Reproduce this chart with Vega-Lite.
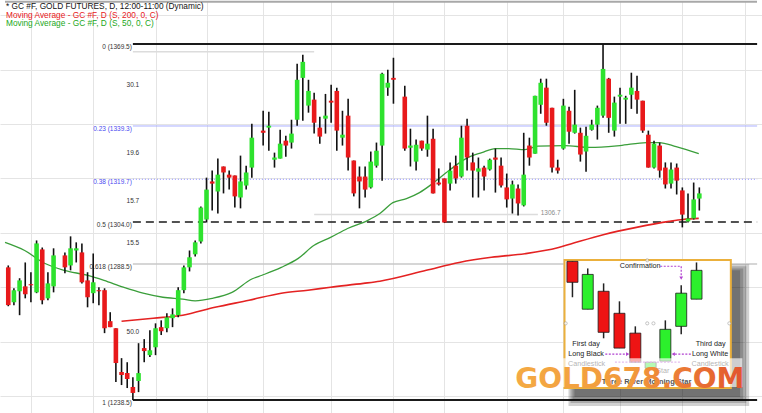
{
"$schema":"https://vega.github.io/schema/vega-lite/v6.json",
"width":762,"height":413,"padding":0,
"autosize":{"type":"fit","contains":"padding"},
"background":"white",
"config":{"view":{"stroke":null},"axis":{"labels":false,"ticks":false,"domain":false,"grid":true,"gridColor":"#e4e4e4","gridWidth":1,"minExtent":0,"maxExtent":0,"titlePadding":0},"text":{"font":"Liberation Sans"}},
"datasets":{
"candles":[
{"t":0,"o":1287.3,"h":1288.0,"l":1273.0,"c":1273.4},
{"t":1,"o":1274.5,"h":1279.6,"l":1273.4,"c":1278.9},
{"t":2,"o":1278.5,"h":1283.3,"l":1269.7,"c":1282.5},
{"t":3,"o":1280.3,"h":1289.1,"l":1275.9,"c":1277.4},
{"t":4,"o":1281.1,"h":1285.5,"l":1274.5,"c":1280.7},
{"t":5,"o":1278.1,"h":1297.2,"l":1277.8,"c":1296.1},
{"t":6,"o":1293.9,"h":1294.6,"l":1273.7,"c":1275.2},
{"t":7,"o":1275.9,"h":1285.5,"l":1275.2,"c":1281.4},
{"t":8,"o":1280.3,"h":1294.3,"l":1278.1,"c":1291.7},
{"t":10,"o":1291.7,"h":1292.8,"l":1285.1,"c":1287.3},
{"t":11,"o":1288.0,"h":1298.7,"l":1286.2,"c":1294.3},
{"t":12,"o":1293.5,"h":1296.5,"l":1289.1,"c":1294.3},
{"t":13,"o":1292.8,"h":1296.1,"l":1281.4,"c":1281.8},
{"t":14,"o":1282.5,"h":1285.5,"l":1272.6,"c":1276.3},
{"t":15,"o":1277.8,"h":1292.4,"l":1274.1,"c":1281.8},
{"t":16,"o":1278.9,"h":1280.0,"l":1273.4,"c":1278.5},
{"t":17,"o":1278.9,"h":1279.6,"l":1263.1,"c":1264.9},
{"t":18,"o":1267.5,"h":1270.8,"l":1265.3,"c":1265.3},
{"t":19,"o":1264.9,"h":1264.9,"l":1245.1,"c":1252.1},
{"t":20,"o":1248.8,"h":1253.9,"l":1244.0,"c":1247.7},
{"t":21,"o":1248.4,"h":1252.4,"l":1242.9,"c":1246.2},
{"t":22,"o":1243.3,"h":1246.9,"l":1238.5,"c":1241.1},
{"t":23,"o":1245.5,"h":1259.4,"l":1241.4,"c":1248.4},
{"t":24,"o":1257.6,"h":1260.9,"l":1252.4,"c":1256.5},
{"t":25,"o":1255.0,"h":1264.2,"l":1254.3,"c":1256.8},
{"t":26,"o":1257.9,"h":1266.7,"l":1255.0,"c":1264.9},
{"t":27,"o":1265.3,"h":1267.8,"l":1262.4,"c":1263.8},
{"t":28,"o":1264.9,"h":1270.4,"l":1263.4,"c":1268.9},
{"t":29,"o":1268.6,"h":1272.2,"l":1265.3,"c":1270.0},
{"t":30,"o":1269.7,"h":1280.0,"l":1268.9,"c":1278.9},
{"t":31,"o":1278.9,"h":1288.0,"l":1277.8,"c":1287.3},
{"t":32,"o":1287.3,"h":1293.5,"l":1285.8,"c":1291.0},
{"t":33,"o":1292.1,"h":1297.2,"l":1291.3,"c":1296.5},
{"t":34,"o":1296.8,"h":1309.7,"l":1296.1,"c":1309.3},
{"t":35,"o":1304.9,"h":1320.3,"l":1303.8,"c":1315.9},
{"t":36,"o":1318.9,"h":1322.9,"l":1308.2,"c":1318.1},
{"t":37,"o":1315.2,"h":1327.3,"l":1307.1,"c":1321.4},
{"t":38,"o":1324.4,"h":1324.4,"l":1314.5,"c":1322.2},
{"t":39,"o":1321.4,"h":1322.9,"l":1315.9,"c":1320.3},
{"t":40,"o":1321.1,"h":1321.1,"l":1309.3,"c":1313.4},
{"t":41,"o":1313.0,"h":1328.4,"l":1309.0,"c":1318.9},
{"t":42,"o":1317.4,"h":1324.7,"l":1315.9,"c":1322.2},
{"t":43,"o":1324.0,"h":1340.1,"l":1320.3,"c":1335.0},
{"t":45,"o":1337.6,"h":1344.9,"l":1332.1,"c":1336.8},
{"t":46,"o":1338.7,"h":1344.5,"l":1330.2,"c":1339.4},
{"t":47,"o":1326.9,"h":1329.5,"l":1324.0,"c":1327.7},
{"t":48,"o":1327.3,"h":1337.9,"l":1327.3,"c":1332.8},
{"t":49,"o":1333.9,"h":1335.7,"l":1328.0,"c":1332.1},
{"t":50,"o":1333.2,"h":1341.6,"l":1331.0,"c":1336.5},
{"t":51,"o":1341.6,"h":1362.2,"l":1339.4,"c":1356.3},
{"t":52,"o":1357.0,"h":1365.5,"l":1341.2,"c":1362.9},
{"t":53,"o":1346.8,"h":1356.3,"l":1344.2,"c":1352.2},
{"t":54,"o":1349.0,"h":1351.5,"l":1336.5,"c":1340.5},
{"t":55,"o":1338.7,"h":1342.7,"l":1332.8,"c":1335.4},
{"t":56,"o":1342.0,"h":1351.1,"l":1336.5,"c":1343.1},
{"t":57,"o":1348.6,"h":1354.5,"l":1340.5,"c":1347.9},
{"t":58,"o":1352.2,"h":1353.4,"l":1330.2,"c":1337.6},
{"t":59,"o":1335.0,"h":1344.9,"l":1332.1,"c":1336.1},
{"t":60,"o":1343.1,"h":1349.3,"l":1322.9,"c":1327.7},
{"t":61,"o":1326.6,"h":1326.6,"l":1313.4,"c":1314.5},
{"t":62,"o":1320.7,"h":1324.4,"l":1309.0,"c":1318.9},
{"t":63,"o":1320.7,"h":1324.4,"l":1313.0,"c":1315.9},
{"t":64,"o":1316.7,"h":1329.9,"l":1316.3,"c":1326.2},
{"t":65,"o":1324.7,"h":1333.2,"l":1324.0,"c":1330.2},
{"t":66,"o":1332.1,"h":1358.9,"l":1319.2,"c":1358.5},
{"t":67,"o":1353.4,"h":1360.0,"l":1350.4,"c":1355.2},
{"t":68,"o":1357.0,"h":1364.4,"l":1347.5,"c":1356.3},
{"t":70,"o":1350.1,"h":1354.1,"l":1330.2,"c":1331.0},
{"t":71,"o":1331.3,"h":1338.3,"l":1324.4,"c":1332.1},
{"t":72,"o":1326.2,"h":1334.3,"l":1322.9,"c":1332.4},
{"t":73,"o":1333.9,"h":1333.9,"l":1330.2,"c":1331.0},
{"t":74,"o":1330.6,"h":1343.1,"l":1328.0,"c":1332.8},
{"t":75,"o":1334.6,"h":1338.3,"l":1314.5,"c":1314.5},
{"t":76,"o":1318.5,"h":1323.7,"l":1317.4,"c":1317.8},
{"t":77,"o":1320.0,"h":1320.0,"l":1303.6,"c":1303.8},
{"t":78,"o":1318.1,"h":1325.9,"l":1315.6,"c":1322.9},
{"t":79,"o":1324.7,"h":1328.4,"l":1318.1,"c":1320.0},
{"t":80,"o":1320.7,"h":1339.4,"l":1320.3,"c":1335.0},
{"t":81,"o":1339.4,"h":1342.0,"l":1322.9,"c":1327.7},
{"t":82,"o":1325.9,"h":1329.5,"l":1313.0,"c":1322.9},
{"t":83,"o":1322.5,"h":1327.7,"l":1313.0,"c":1323.7},
{"t":84,"o":1324.0,"h":1324.7,"l":1315.6,"c":1320.7},
{"t":85,"o":1323.3,"h":1327.3,"l":1322.9,"c":1326.9},
{"t":86,"o":1327.7,"h":1331.0,"l":1314.8,"c":1326.9},
{"t":87,"o":1324.7,"h":1327.7,"l":1316.7,"c":1317.4},
{"t":88,"o":1316.7,"h":1321.8,"l":1309.3,"c":1312.3},
{"t":89,"o":1312.6,"h":1319.2,"l":1307.1,"c":1317.8},
{"t":90,"o":1316.3,"h":1317.8,"l":1306.4,"c":1310.8},
{"t":91,"o":1310.1,"h":1336.8,"l":1309.7,"c":1321.4},
{"t":92,"o":1332.1,"h":1335.0,"l":1324.7,"c":1327.7},
{"t":93,"o":1329.1,"h":1350.4,"l":1329.1,"c":1350.4},
{"t":94,"o":1347.1,"h":1356.7,"l":1343.8,"c":1355.2},
{"t":95,"o":1353.4,"h":1356.7,"l":1339.4,"c":1340.5},
{"t":96,"o":1346.0,"h":1346.0,"l":1322.2,"c":1324.0},
{"t":97,"o":1324.0,"h":1326.9,"l":1321.8,"c":1322.9},
{"t":98,"o":1331.0,"h":1349.3,"l":1330.6,"c":1346.8},
{"t":99,"o":1344.9,"h":1346.4,"l":1332.8,"c":1337.2},
{"t":100,"o":1336.8,"h":1352.6,"l":1336.5,"c":1339.8},
{"t":101,"o":1336.8,"h":1338.7,"l":1326.2,"c":1328.8},
{"t":102,"o":1329.9,"h":1339.0,"l":1322.5,"c":1335.7},
{"t":103,"o":1337.9,"h":1341.6,"l":1337.6,"c":1339.8},
{"t":104,"o":1339.8,"h":1346.8,"l":1334.3,"c":1346.0},
{"t":105,"o":1343.1,"h":1369.5,"l":1342.3,"c":1360.3},
{"t":106,"o":1356.7,"h":1357.0,"l":1336.8,"c":1342.3},
{"t":107,"o":1337.6,"h":1350.1,"l":1335.4,"c":1347.9},
{"t":108,"o":1350.1,"h":1353.4,"l":1340.1,"c":1350.8},
{"t":109,"o":1349.0,"h":1350.4,"l":1340.1,"c":1349.7},
{"t":110,"o":1350.8,"h":1358.9,"l":1345.6,"c":1353.4},
{"t":111,"o":1352.2,"h":1357.8,"l":1343.8,"c":1349.0},
{"t":112,"o":1348.6,"h":1348.6,"l":1336.8,"c":1337.6},
{"t":113,"o":1336.1,"h":1337.6,"l":1324.0,"c":1324.0},
{"t":114,"o":1324.0,"h":1333.9,"l":1323.7,"c":1332.8},
{"t":115,"o":1332.1,"h":1333.2,"l":1320.3,"c":1322.9},
{"t":116,"o":1324.0,"h":1325.9,"l":1316.3,"c":1317.8},
{"t":117,"o":1318.1,"h":1325.9,"l":1316.3,"c":1323.3},
{"t":118,"o":1324.0,"h":1325.5,"l":1314.1,"c":1319.2},
{"t":119,"o":1315.6,"h":1316.7,"l":1302.0,"c":1306.7},
{"t":120,"o":1304.2,"h":1314.5,"l":1303.8,"c":1305.3},
{"t":121,"o":1305.3,"h":1318.5,"l":1304.9,"c":1312.3},
{"t":122,"o":1312.6,"h":1316.7,"l":1308.2,"c":1314.5}
],
"ma50":[
{"t":-0.57,"v":1296.5},{"t":2.9,"v":1293.5},{"t":6.4,"v":1288.8},{"t":9.9,"v":1286.2},{"t":13.9,"v":1284.4},{"t":16.9,"v":1282.5},{"t":20.3,"v":1280.0},{"t":23.8,"v":1277.8},{"t":27.3,"v":1276.3},{"t":30.8,"v":1275.6},{"t":33.0,"v":1275.0},{"t":36.0,"v":1275.9},{"t":39.5,"v":1278.1},{"t":43.0,"v":1283.0},{"t":44.8,"v":1284.4},{"t":48.2,"v":1287.3},{"t":51.2,"v":1290.6},{"t":54.0,"v":1295.4},{"t":56.9,"v":1298.3},{"t":59.9,"v":1301.6},{"t":63.4,"v":1304.5},{"t":65.6,"v":1307.1},{"t":67.9,"v":1311.1},{"t":70.3,"v":1312.6},{"t":72.6,"v":1314.8},{"t":74.9,"v":1318.1},{"t":77.8,"v":1322.9},{"t":80.8,"v":1327.3},{"t":83.6,"v":1329.5},{"t":86.0,"v":1331.0},{"t":88.3,"v":1331.0},{"t":91.2,"v":1330.6},{"t":93.5,"v":1331.9},{"t":98.2,"v":1332.1},{"t":102.7,"v":1331.4},{"t":108.0,"v":1332.1},{"t":112.7,"v":1333.2},{"t":114.9,"v":1333.2},{"t":117.9,"v":1331.7},{"t":121.9,"v":1329.1}
],
"ma200":[
{"t":20.0,"v":1267.5},{"t":25.6,"v":1268.6},{"t":30.8,"v":1269.7},{"t":36.5,"v":1272.6},{"t":42.5,"v":1275.2},{"t":48.2,"v":1277.8},{"t":52.9,"v":1278.9},{"t":56.9,"v":1280.0},{"t":62.7,"v":1281.4},{"t":65.6,"v":1282.2},{"t":73.8,"v":1286.2},{"t":79.6,"v":1289.1},{"t":85.3,"v":1291.0},{"t":91.2,"v":1292.3},{"t":97.0,"v":1294.5},{"t":99.3,"v":1295.9},{"t":105.2,"v":1299.4},{"t":110.9,"v":1302.0},{"t":116.7,"v":1304.2},{"t":119.1,"v":1304.9},{"t":121.9,"v":1305.3}
],
"fib":[
{"lvl":0,"p":1369.5,"label":"0 (1369.5)","t0":22,"t1":132.2},
{"lvl":0.236,"p":1339.3,"label":"0.23 (1339.3)","t0":22,"t1":132.2},
{"lvl":0.382,"p":1319.7,"label":"0.38 (1319.7)","t0":22,"t1":132.2},
{"lvl":0.5,"p":1304.0,"label":"0.5 (1304.0)","t0":22,"t1":132.2},
{"lvl":0.618,"p":1288.5,"label":"0.618 (1288.5)","t0":22,"t1":132.2},
{"lvl":1,"p":1238.5,"label":"1 (1238.5)","t0":22,"t1":132.2}
],
"fibdiff":[
{"t":22,"p":1354.4,"d":"30.1"},{"t":22,"p":1329.5,"d":"19.6"},{"t":22,"p":1311.85,"d":"15.7"},{"t":22,"p":1296.25,"d":"15.5"},{"t":22,"p":1263.5,"d":"50.0"}
],
"inset":[
{"t":99.6,"o":1289.5,"h":1289.5,"l":1276.3,"c":1281.8},
{"t":102.3,"o":1271.9,"h":1286.9,"l":1271.9,"c":1284.7},
{"t":105.1,"o":1278.5,"h":1281.4,"l":1261.2,"c":1263.4},
{"t":107.9,"o":1270.4,"h":1274.8,"l":1257.6,"c":1257.6},
{"t":110.7,"o":1263.1,"h":1265.6,"l":1252.4,"c":1252.4},
{"t":113.4,"o":1250.2,"h":1252.4,"l":1250.2,"c":1252.4},
{"t":116.0,"o":1252.8,"h":1267.8,"l":1252.8,"c":1264.5},
{"t":118.8,"o":1265.6,"h":1280.7,"l":1262.7,"c":1277.8},
{"t":121.5,"o":1275.6,"h":1289.1,"l":1275.6,"c":1286.2}
]
},
"layer":[
{"data":{"values":[{"t0":-0.575,"t1":132.18,"p":1385.0}]},
 "mark":{"type":"rule","color":"#a8a8a8","strokeWidth":2},
 "encoding":{
  "x":{"field":"t0","type":"quantitative","scale":{"domain":[-0.575,132.18],"nice":false,"zero":false},"title":null,"axis":{"values":[4,15,26,35,45,57,68,77,88,98,108,119,130]}},
  "x2":{"field":"t1"},
  "y":{"field":"p","type":"quantitative","scale":{"domain":[1233.72,1385.28],"nice":false,"zero":false},"title":null,"axis":{"values":[1240,1250,1260,1270,1280,1290,1300,1310,1320,1330,1340,1350,1360,1370,1380]}}}},
{"data":{"values":[{"t":-0.4,"p":1383.0,"s":"* GC #F, GOLD FUTURES, D, 12:00-11:00 (Dynamic)"}]},
 "mark":{"type":"text","align":"left","baseline":"middle","fontSize":8.3,"color":"#111111"},
 "encoding":{"x":{"field":"t","type":"quantitative","scale":{"domain":[-0.575,132.18],"nice":false,"zero":false},"title":null},"y":{"field":"p","type":"quantitative","scale":{"domain":[1233.72,1385.28],"nice":false,"zero":false},"title":null},"text":{"field":"s"}}},
{"data":{"values":[{"t":-0.4,"p":1379.8,"s":"Moving Average - GC #F, D (S, 200, 0, C)"}]},
 "mark":{"type":"text","align":"left","baseline":"middle","fontSize":8.3,"color":"#e8201c"},
 "encoding":{"x":{"field":"t","type":"quantitative","scale":{"domain":[-0.575,132.18],"nice":false,"zero":false},"title":null},"y":{"field":"p","type":"quantitative","scale":{"domain":[1233.72,1385.28],"nice":false,"zero":false},"title":null},"text":{"field":"s"}}},
{"data":{"values":[{"t":-0.4,"p":1376.7,"s":"Moving Average - GC #F, D (S, 50, 0, C)"}]},
 "mark":{"type":"text","align":"left","baseline":"middle","fontSize":8.3,"color":"#22a822"},
 "encoding":{"x":{"field":"t","type":"quantitative","scale":{"domain":[-0.575,132.18],"nice":false,"zero":false},"title":null},"y":{"field":"p","type":"quantitative","scale":{"domain":[1233.72,1385.28],"nice":false,"zero":false},"title":null},"text":{"field":"s"}}},
{"data":{"values":[{"t0":22,"t1":54,"p":1366.6},{"t0":54,"t1":93.5,"p":1306.7}]},
 "mark":{"type":"rule","color":"#dcdcdc","strokeWidth":1.5},
 "encoding":{"x":{"field":"t0","type":"quantitative","scale":{"domain":[-0.575,132.18],"nice":false,"zero":false},"title":null},"x2":{"field":"t1"},"y":{"field":"p","type":"quantitative","scale":{"domain":[1233.72,1385.28],"nice":false,"zero":false},"title":null}}},
{"data":{"values":[{"t":94,"p":1306.7,"s":"1306.7"}]},
 "mark":{"type":"text","align":"left","baseline":"middle","fontSize":6.5,"color":"#8a8a8a","dy":-2},
 "encoding":{"x":{"field":"t","type":"quantitative","scale":{"domain":[-0.575,132.18],"nice":false,"zero":false},"title":null},"y":{"field":"p","type":"quantitative","scale":{"domain":[1233.72,1385.28],"nice":false,"zero":false},"title":null},"text":{"field":"s"}}},
{"data":{"name":"fib"},"transform":[{"filter":"datum.lvl == 0 || datum.lvl == 1"}],
 "mark":{"type":"rule","color":"#1a1a1a","strokeWidth":2},
 "encoding":{"x":{"field":"t0","type":"quantitative","scale":{"domain":[-0.575,132.18],"nice":false,"zero":false},"title":null},"x2":{"field":"t1"},"y":{"field":"p","type":"quantitative","scale":{"domain":[1233.72,1385.28],"nice":false,"zero":false},"title":null}}},
{"data":{"name":"fib"},"transform":[{"filter":"datum.lvl == 0.236"}],
 "mark":{"type":"rule","color":"#aab0ff","strokeWidth":1},
 "encoding":{"x":{"field":"t0","type":"quantitative","scale":{"domain":[-0.575,132.18],"nice":false,"zero":false},"title":null},"x2":{"field":"t1"},"y":{"field":"p","type":"quantitative","scale":{"domain":[1233.72,1385.28],"nice":false,"zero":false},"title":null}}},
{"data":{"name":"fib"},"transform":[{"filter":"datum.lvl == 0.382"}],
 "mark":{"type":"rule","color":"#8a8aff","strokeWidth":1,"strokeDash":[1,2]},
 "encoding":{"x":{"field":"t0","type":"quantitative","scale":{"domain":[-0.575,132.18],"nice":false,"zero":false},"title":null},"x2":{"field":"t1"},"y":{"field":"p","type":"quantitative","scale":{"domain":[1233.72,1385.28],"nice":false,"zero":false},"title":null}}},
{"data":{"name":"fib"},"transform":[{"filter":"datum.lvl == 0.5"}],
 "mark":{"type":"rule","color":"#1a1a1a","strokeWidth":1.6,"strokeDash":[8,5]},
 "encoding":{"x":{"field":"t0","type":"quantitative","scale":{"domain":[-0.575,132.18],"nice":false,"zero":false},"title":null},"x2":{"field":"t1"},"y":{"field":"p","type":"quantitative","scale":{"domain":[1233.72,1385.28],"nice":false,"zero":false},"title":null}}},
{"data":{"name":"fib"},"transform":[{"filter":"datum.lvl == 0.618"}],
 "mark":{"type":"rule","color":"#c8c8c8","strokeWidth":1.5},
 "encoding":{"x":{"field":"t0","type":"quantitative","scale":{"domain":[-0.575,132.18],"nice":false,"zero":false},"title":null},"x2":{"field":"t1"},"y":{"field":"p","type":"quantitative","scale":{"domain":[1233.72,1385.28],"nice":false,"zero":false},"title":null}}},
{"data":{"name":"fib"},
 "mark":{"type":"text","align":"right","baseline":"middle","fontSize":6.5,"dy":3,"dx":-1},
 "encoding":{"x":{"field":"t0","type":"quantitative","scale":{"domain":[-0.575,132.18],"nice":false,"zero":false},"title":null},"y":{"field":"p","type":"quantitative","scale":{"domain":[1233.72,1385.28],"nice":false,"zero":false},"title":null},"text":{"field":"label"},
  "color":{"condition":{"test":"datum.lvl == 0.236 || datum.lvl == 0.382","value":"#4a4af0"},"value":"#333333"}}},
{"data":{"name":"fibdiff"},
 "mark":{"type":"text","align":"center","baseline":"middle","fontSize":6.5,"color":"#333333"},
 "encoding":{"x":{"field":"t","type":"quantitative","scale":{"domain":[-0.575,132.18],"nice":false,"zero":false},"title":null},"y":{"field":"p","type":"quantitative","scale":{"domain":[1233.72,1385.28],"nice":false,"zero":false},"title":null},"text":{"field":"d"}}},
{"data":{"name":"ma50"},
 "mark":{"type":"line","color":"#3a9e3a","strokeWidth":1.3,"interpolate":"monotone"},
 "encoding":{"x":{"field":"t","type":"quantitative","scale":{"domain":[-0.575,132.18],"nice":false,"zero":false},"title":null},"y":{"field":"v","type":"quantitative","scale":{"domain":[1233.72,1385.28],"nice":false,"zero":false},"title":null}}},
{"data":{"name":"ma200"},
 "mark":{"type":"line","color":"#e42222","strokeWidth":1.6,"interpolate":"monotone"},
 "encoding":{"x":{"field":"t","type":"quantitative","scale":{"domain":[-0.575,132.18],"nice":false,"zero":false},"title":null},"y":{"field":"v","type":"quantitative","scale":{"domain":[1233.72,1385.28],"nice":false,"zero":false},"title":null}}},
{"data":{"name":"candles"},
 "mark":{"type":"rule","color":"#111111","strokeWidth":1.6},
 "encoding":{"x":{"field":"t","type":"quantitative","scale":{"domain":[-0.575,132.18],"nice":false,"zero":false},"title":null},"y":{"field":"l","type":"quantitative","scale":{"domain":[1233.72,1385.28],"nice":false,"zero":false},"title":null},"y2":{"field":"h"}}},
{"data":{"name":"candles"},
 "mark":{"type":"bar","size":4.6},
 "encoding":{"x":{"field":"t","type":"quantitative","scale":{"domain":[-0.575,132.18],"nice":false,"zero":false},"title":null},"y":{"field":"o","type":"quantitative","scale":{"domain":[1233.72,1385.28],"nice":false,"zero":false},"title":null},"y2":{"field":"c"},
  "color":{"condition":{"test":"datum.c >= datum.o","value":"#2ee22e"},"value":"#e8191b"}}},
{"data":{"values":[{"t0":98.9,"t1":130.8,"p0":1288.4,"p1":1236.3},{"t0":99.25,"t1":130.3,"p0":1287.7,"p1":1237.4},{"t0":99.6,"t1":129.74,"p0":1286.9,"p1":1238.5},{"t0":99.95,"t1":129.2,"p0":1286.2,"p1":1239.6}]},
 "mark":{"type":"rect","color":"#000000","opacity":0.18},
 "encoding":{"x":{"field":"t0","type":"quantitative","scale":{"domain":[-0.575,132.18],"nice":false,"zero":false},"title":null},"x2":{"field":"t1"},"y":{"field":"p0","type":"quantitative","scale":{"domain":[1233.72,1385.28],"nice":false,"zero":false},"title":null},"y2":{"field":"p1"}}},
{"data":{"values":[{"t0":98.2,"t1":127.56,"p0":1290.0,"p1":1242.9}]},
 "mark":{"type":"rect","fill":"#ffffff","stroke":"#ebb03c","strokeWidth":2},
 "encoding":{"x":{"field":"t0","type":"quantitative","scale":{"domain":[-0.575,132.18],"nice":false,"zero":false},"title":null},"x2":{"field":"t1"},"y":{"field":"p0","type":"quantitative","scale":{"domain":[1233.72,1385.28],"nice":false,"zero":false},"title":null},"y2":{"field":"p1"}}},
{"data":{"name":"inset"},
 "mark":{"type":"rule","color":"#222222","strokeWidth":1.5},
 "encoding":{"x":{"field":"t","type":"quantitative","scale":{"domain":[-0.575,132.18],"nice":false,"zero":false},"title":null},"y":{"field":"l","type":"quantitative","scale":{"domain":[1233.72,1385.28],"nice":false,"zero":false},"title":null},"y2":{"field":"h"}}},
{"data":{"name":"inset"},
 "mark":{"type":"bar","size":11,"stroke":"#1a1a1a","strokeWidth":0.8},
 "encoding":{"x":{"field":"t","type":"quantitative","scale":{"domain":[-0.575,132.18],"nice":false,"zero":false},"title":null},"y":{"field":"o","type":"quantitative","scale":{"domain":[1233.72,1385.28],"nice":false,"zero":false},"title":null},"y2":{"field":"c"},
  "color":{"condition":{"test":"datum.c >= datum.o","value":"#2cf02c"},"value":"#ee1414"}}},
{"data":{"values":[{"t":112.8,"p":1266.7},{"t":113.9,"p":1266.7},{"t":98.4,"p":1266.7},{"t":127.3,"p":1266.7},{"t":112.8,"p":1289.9}]},
 "mark":{"type":"point","size":10,"stroke":"#999999","fill":"#ffffff","filled":false,"strokeWidth":0.8},
 "encoding":{"x":{"field":"t","type":"quantitative","scale":{"domain":[-0.575,132.18],"nice":false,"zero":false},"title":null},"y":{"field":"p","type":"quantitative","scale":{"domain":[1233.72,1385.28],"nice":false,"zero":false},"title":null}}},
{"data":{"values":[{"g":"conf","k":0,"t":115.1,"p":1287.7},{"g":"conf","k":1,"t":118.8,"p":1287.7},{"g":"conf","k":2,"t":118.8,"p":1284.0},{"g":"lb","k":0,"t":105.4,"p":1255.4},{"g":"lb","k":1,"t":109.0,"p":1255.4},{"g":"lw","k":0,"t":120.5,"p":1255.4},{"g":"lw","k":1,"t":117.7,"p":1255.4},{"g":"low","k":0,"t":107.1,"p":1252.4},{"g":"low","k":1,"t":118.6,"p":1252.4}]},
 "mark":{"type":"line","color":"#b040d0","strokeWidth":1.2,"strokeDash":[2,1.5]},
 "encoding":{"x":{"field":"t","type":"quantitative","scale":{"domain":[-0.575,132.18],"nice":false,"zero":false},"title":null},"y":{"field":"p","type":"quantitative","scale":{"domain":[1233.72,1385.28],"nice":false,"zero":false},"title":null},"detail":{"field":"g"},"order":{"field":"k"}}},
{"data":{"values":[{"d":"r","t":109.35,"p":1255.4},{"d":"l","t":117.4,"p":1255.4},{"d":"d","t":118.8,"p":1283.3}]},
 "mark":{"type":"point","filled":true,"color":"#b040d0","size":14,"opacity":1},
 "encoding":{"x":{"field":"t","type":"quantitative","scale":{"domain":[-0.575,132.18],"nice":false,"zero":false},"title":null},"y":{"field":"p","type":"quantitative","scale":{"domain":[1233.72,1385.28],"nice":false,"zero":false},"title":null},
  "shape":{"field":"d","type":"nominal","scale":{"domain":["r","l","d"],"range":["triangle-right","triangle-left","triangle-down"]},"legend":null}}},
{"data":{"values":[{"t":102.0,"p":1259.2,"s":"First day"},{"t":102.0,"p":1255.6,"s":"Long Black"},{"t":124.0,"p":1259.2,"s":"Third day"},{"t":123.9,"p":1255.6,"s":"Long White"},{"t":102.1,"p":1251.9,"s":"Candlestick"},{"t":123.9,"p":1251.9,"s":"Candlestick"}]},
 "mark":{"type":"text","align":"center","baseline":"middle","fontSize":7.2,"color":"#222222"},
 "encoding":{"x":{"field":"t","type":"quantitative","scale":{"domain":[-0.575,132.18],"nice":false,"zero":false},"title":null},"y":{"field":"p","type":"quantitative","scale":{"domain":[1233.72,1385.28],"nice":false,"zero":false},"title":null},"text":{"field":"s"}}},
{"data":{"values":[{"t":107.96,"p":1287.7,"s":"Confirmation"},{"t":114.4,"p":1249.1,"s":"Star"}]},
 "mark":{"type":"text","align":"left","baseline":"middle","fontSize":7.2,"color":"#222222"},
 "encoding":{"x":{"field":"t","type":"quantitative","scale":{"domain":[-0.575,132.18],"nice":false,"zero":false},"title":null},"y":{"field":"p","type":"quantitative","scale":{"domain":[1233.72,1385.28],"nice":false,"zero":false},"title":null},"text":{"field":"s"}}},
{"data":{"values":[{"t0":89.1,"t1":129.6,"p0":1253.9,"p1":1243.3}]},
 "mark":{"type":"rect","color":"#ffffff","opacity":0.65},
 "encoding":{"x":{"field":"t0","type":"quantitative","scale":{"domain":[-0.575,132.18],"nice":false,"zero":false},"title":null},"x2":{"field":"t1"},"y":{"field":"p0","type":"quantitative","scale":{"domain":[1233.72,1385.28],"nice":false,"zero":false},"title":null},"y2":{"field":"p1"}}},
{"data":{"values":[{"t":112.7,"p":1245.1,"s":"Three River Morning Star"}]},
 "mark":{"type":"text","align":"center","baseline":"middle","fontSize":7.5,"fontWeight":"bold","color":"#555555"},
 "encoding":{"x":{"field":"t","type":"quantitative","scale":{"domain":[-0.575,132.18],"nice":false,"zero":false},"title":null},"y":{"field":"p","type":"quantitative","scale":{"domain":[1233.72,1385.28],"nice":false,"zero":false},"title":null},"text":{"field":"s"}}},
{"data":{"values":[{"t":89.5,"p":1242.9,"s":"GOLD678.COM"}]},
 "mark":{"type":"text","align":"left","baseline":"alphabetic","font":"DejaVu Sans","fontSize":28,"fontWeight":"bold",
  "fill":{"gradient":"linear","x1":0,"y1":0,"x2":1,"y2":0,"stops":[{"offset":0,"color":"#f4aa44"},{"offset":0.5,"color":"#f29a3c"},{"offset":1,"color":"#e2542d"}]}},
 "encoding":{"x":{"field":"t","type":"quantitative","scale":{"domain":[-0.575,132.18],"nice":false,"zero":false},"title":null},"y":{"field":"p","type":"quantitative","scale":{"domain":[1233.72,1385.28],"nice":false,"zero":false},"title":null},"text":{"field":"s"}}}
]
}
